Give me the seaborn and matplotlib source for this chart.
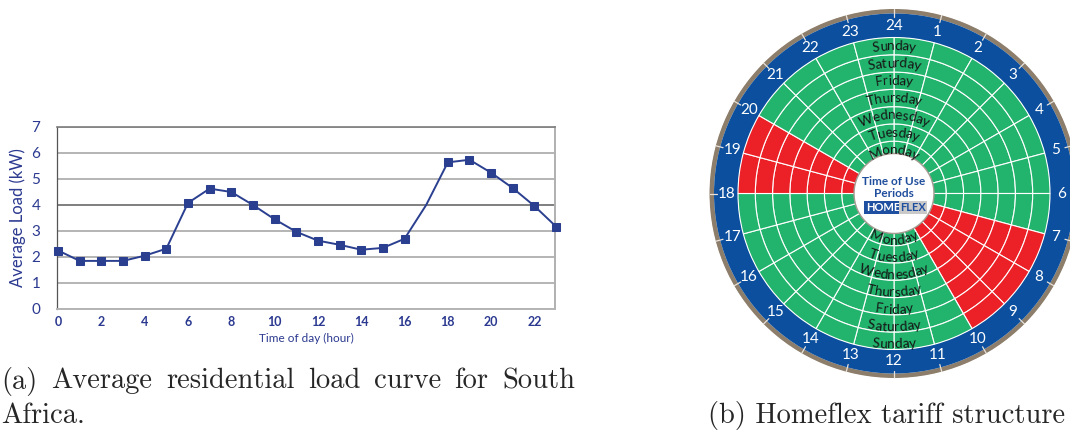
import numpy as np
import pandas as pd
import seaborn as sns
import matplotlib.pyplot as plt
from matplotlib.font_manager import FontProperties
from matplotlib.textpath import TextToPath

# left panel: average load per hour
hours = list(range(24))
load_kw = [2.25, 1.85, 1.85, 1.85, 2.05, 2.32, 4.08, 4.63, 4.50, 4.00, 3.45, 2.97,
           2.63, 2.47, 2.28, 2.35, 2.70, 4.00, 5.64, 5.74, 5.24, 4.65, 3.96, 3.17]
no_marker_hours = [17]
x_ticks = list(range(0, 23, 2))
y_ticks = list(range(0, 8))

# right panel: tariff dial
dial_labels = ['24'] + [str(h) for h in range(1, 24)]
days = ['Monday', 'Tuesday', 'Wednesday', 'Thursday', 'Friday', 'Saturday', 'Sunday']
peak_hours = [7, 8, 9, 18, 19]

caption_a = ['(a)', 'Average', 'residential', 'load', 'curve', 'for', 'South']
caption_a2 = 'Africa.'
caption_b = '(b) Homeflex tariff structure'

W, H = 1070, 433
navy = '#2a3f8f'
txt_blue = '#2b3990'
green = '#22b36d'
red = '#ec2027'
ring_blue = '#0b4f9e'
brown = '#8d7e6c'

sns.set_style('white')
plt.rcParams['font.family'] = ['Lato', 'DejaVu Sans']

fig = plt.figure(figsize=(W / 100, H / 100), dpi=100)


def px(x, y):
    return x / W, 1 - y / H


# ---- load curve ----
ax = fig.add_axes([57 / W, 1 - 309 / H, (555 - 57) / W, (309 - 127) / H])
df = pd.DataFrame({'hour': hours, 'load': load_kw})
marks = [i for i, h in enumerate(hours) if h not in no_marker_hours]
sns.lineplot(data=df, x='hour', y='load', ax=ax, color=navy, lw=1.4,
             marker='s', markersize=5.5, markevery=marks, clip_on=False,
             markeredgecolor=navy, markerfacecolor=navy, zorder=5)
ax.set_xlim(-0.05, 22.95)
ax.set_ylim(0, 7)
ax.set_xticks(x_ticks)
ax.set_yticks(y_ticks)
ax.yaxis.grid(True, color='#b4b4b4', lw=1.4)
ax.axhline(4, color='#7d7d7d', lw=1.3, zorder=1)
ax.tick_params(axis='y', length=4, color='#b4b4b4', pad=8, labelsize=11, labelcolor=txt_blue)
ax.tick_params(axis='x', length=0, pad=5, labelsize=9, labelcolor=txt_blue)
for t in ax.get_xticklabels():
    t.set_fontweight('bold')
ax.spines['left'].set_color('#555555')
ax.spines['left'].set_linewidth(0.9)
ax.spines['top'].set_color('#7d7d7d')
ax.spines['top'].set_linewidth(1.2)
ax.spines['right'].set_color('#b0b0b0')
ax.spines['right'].set_linewidth(1.4)
ax.spines['bottom'].set_color('#b4b4b4')
ax.spines['bottom'].set_linewidth(1.4)
ax.set_xlabel('Time of day (hour)', fontsize=8.5, color=txt_blue)
ax.set_ylabel('Average Load (kW)', fontsize=12, color=txt_blue)
ax.xaxis.set_label_coords(0.5, -(333 - 309) / 182)
ax.yaxis.set_label_coords((26 - 57) / 498, 0.5)

# ---- tariff dial ----
cx, cy, R = 894, 193.5, 185
pax = fig.add_axes([(cx - R) / W, 1 - (cy + R) / H, 2 * R / W, 2 * R / H], projection='polar')
pax.set_theta_zero_location('N')
pax.set_theta_direction(-1)
pax.set_ylim(0, R)
pax.set_axis_off()

step = 2 * np.pi / 24
base, outer = 35, 156
ring_w = (outer - base) / len(days)

pax.bar(0, 4.5, width=2 * np.pi, bottom=180, color=brown, lw=0)
pax.bar(0, 24, width=2 * np.pi, bottom=156, color=ring_blue, lw=0)

thetas, bottoms, colors = [], [], []
for d in range(len(days)):
    for h in hours:
        thetas.append((h + 0.5) * step)
        bottoms.append(base + d * ring_w)
        colors.append(red if h in peak_hours else green)
pax.bar(thetas, ring_w, width=step, bottom=bottoms, color=colors,
        edgecolor='white', lw=0.8)

for h, lab in zip(hours, dial_labels):
    pax.plot([h * step, h * step], [177, 184.5], color='#e8e2da', lw=0.9)
    pax.text(h * step, 167.5, lab, color='white', fontsize=11, ha='center', va='center')

pax.bar(0, 40, width=2 * np.pi, bottom=0, color='white', lw=0)
circ = np.linspace(0, 2 * np.pi, 300)
pax.plot(circ, np.full_like(circ, 40), color='#a39a90', lw=1)

ttp = TextToPath()
day_fp = FontProperties(family='Lato', size=9.8)


def arc_text(word, r, bottom=False):
    widths = np.array([ttp.get_text_width_height_descent(c, day_fp, ismath=False)[0]
                       for c in word]) * 100 / 72
    pos = np.cumsum(widths) - widths / 2 - widths.sum() / 2
    for c, p in zip(word, pos):
        a = p / r
        if bottom:
            th, rot = np.pi - a, np.degrees(a)
        else:
            th, rot = a, -np.degrees(a)
        pax.text(th, r, c, fontproperties=day_fp, color='#161616', rotation=rot,
                 rotation_mode='anchor', ha='center', va='center')


for d, day in enumerate(days):
    rc = base + (d + 0.5) * ring_w
    arc_text(day, rc)
    arc_text(day, rc + 3.5, bottom=True)

fig.text(*px(cx, 181.7), 'Time of Use', fontsize=8.5, fontweight='bold',
         color='#1f4e9c', ha='center', va='center')
fig.text(*px(cx, 193.6), 'Periods', fontsize=8.5, fontweight='bold',
         color='#1f4e9c', ha='center', va='center')
fig.text(*px(900, 207.5), 'HOME', fontsize=8, fontweight='bold', color='white',
         ha='right', va='center',
         bbox=dict(boxstyle='square,pad=0.12', fc='#1f4fa0', ec='none'))
fig.text(*px(900, 207.5), 'FLEX', fontsize=8, fontweight='bold', color='#1f4fa0',
         ha='left', va='center',
         bbox=dict(boxstyle='square,pad=0.12', fc='#c9c9c9', ec='none'))

# ---- captions ----
cap_fp = FontProperties(family='cmr10', size=20.5)
word_w = [ttp.get_text_width_height_descent(w, cap_fp, ismath=False)[0] * 100 / 72
          for w in caption_a]
gap = (575 - 1 - sum(word_w)) / (len(caption_a) - 1)
x = 1
for w, ww in zip(caption_a, word_w):
    fig.text(*px(x, 381), w, fontproperties=cap_fp, va='center', ha='left')
    x += ww + gap
fig.text(*px(1, 416), caption_a2, fontproperties=cap_fp, va='center', ha='left')
fig.text(*px(708, 416), caption_b, fontproperties=cap_fp, va='center', ha='left')

fig.savefig('out.png', dpi=100)
